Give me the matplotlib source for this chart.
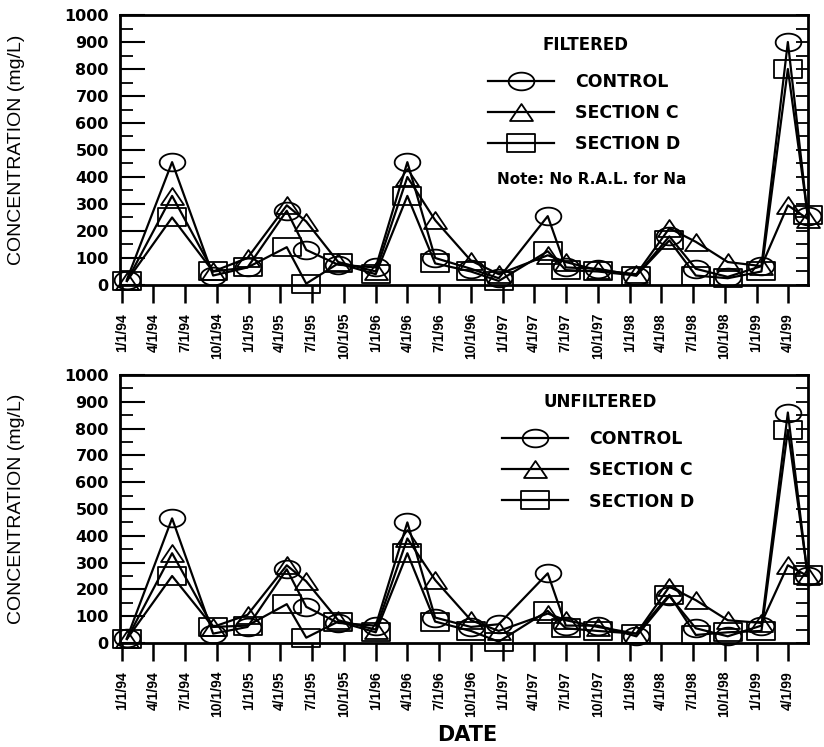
# Sodium concentration, filtered / unfiltered
import matplotlib
matplotlib.use('Agg')
import matplotlib.pyplot as plt
from matplotlib.path import Path
import numpy as np
import pandas as pd

sample_dates = ['1994-01-15', '1994-05-25', '1994-09-20', '1994-12-28',
                '1995-04-20', '1995-06-15', '1995-09-15', '1996-01-01',
                '1996-04-01', '1996-06-20', '1996-10-01', '1996-12-20',
                '1997-05-10', '1997-07-01', '1997-10-01', '1998-01-20',
                '1998-04-25', '1998-07-10', '1998-10-10', '1999-01-15',
                '1999-04-01', '1999-05-28']

control_filt = [20, 455, 35, 65, 275, 130, 75, 65, 455, 100, 60,
                25, 255, 65, 60, 35, 180, 60, 30, 70, 900, 255]
sec_c_filt = [15, 330, 50, 100, 295, 235, 85, 50, 400, 240, 90,
              40, 110, 85, 55, 40, 210, 160, 85, 70, 295, 245]
sec_d_filt = [15, 250, 50, 65, 140, 5, 80, 40, 330, 80, 50,
              15, 125, 55, 50, 35, 165, 35, 25, 50, 800, 260]

control_unf = [18, 465, 35, 60, 275, 135, 75, 65, 450, 95, 60,
               70, 260, 65, 65, 25, 175, 55, 25, 65, 860, 250]
sec_c_unf = [15, 335, 60, 105, 290, 230, 85, 50, 390, 235, 85,
             45, 110, 85, 60, 35, 210, 160, 85, 75, 290, 250]
sec_d_unf = [15, 250, 60, 65, 145, 20, 80, 40, 335, 80, 45,
             5, 120, 55, 45, 35, 180, 30, 40, 45, 795, 255]

series_names = ['CONTROL', 'SECTION C', 'SECTION D']

dates = pd.to_datetime(sample_dates)
tick_dates = pd.date_range('1994-01-01', '1999-04-01', freq='QS')
tick_labels = [f"{d.month}/{d.day}/{d.strftime('%y')}" for d in tick_dates]

# wide hollow markers like the original plotter output
t = np.linspace(0, 2 * np.pi, 60)
ellipse = Path(np.column_stack([1.45 * np.cos(t), np.sin(t)]), closed=True)
rect = Path([(-1.5, -1), (1.5, -1), (1.5, 1), (-1.5, 1), (-1.5, -1)], closed=True)
tri = Path([(-1.35, -1), (1.35, -1), (0, 1), (-1.35, -1)], closed=True)
markers = [(ellipse, 18.5), (tri, 16.5), (rect, 19.5)]

TICKFONT = 'Liberation Sans'


def draw_panel(ax, values, title, title_xy, leg_anchor, note=None):
    for vals, (mk, ms), name in zip(values, markers, series_names):
        ax.plot(dates, vals, color='black', lw=1.6, marker=mk, ms=ms,
                mfc='none', mec='black', mew=1.3, label=name, clip_on=False)

    ax.set_xlim(pd.Timestamp('1993-12-26'), pd.Timestamp('1999-05-29'))
    ax.set_ylim(0, 1000)
    ax.set_xticks(tick_dates)
    ax.set_xticklabels(tick_labels, rotation=90, fontsize=10,
                       fontweight='bold', family=TICKFONT)
    ax.set_yticks(np.arange(0, 1001, 100))
    ax.set_yticks(np.arange(50, 1000, 100), minor=True)
    ax.set_yticklabels([str(v) for v in range(0, 1001, 100)],
                       fontsize=11.5, fontweight='bold', family='DejaVu Sans')
    ax.tick_params(axis='y', which='major', direction='in', length=18, width=1.5, pad=8)
    ax.tick_params(axis='y', which='minor', direction='in', length=9, width=1.3)
    ax.tick_params(axis='x', direction='out', length=13, width=1.8, pad=7)
    for s in ax.spines.values():
        s.set_linewidth(2)

    ax2 = ax.twinx()
    ax2.set_ylim(0, 1000)
    ax2.set_yticks(np.arange(0, 1001, 50))
    ax2.tick_params(direction='in', length=9, width=1.3, labelright=False)
    for s in ax2.spines.values():
        s.set_visible(False)

    ax.set_ylabel('CONCENTRATION (mg/L)', fontsize=14, family=TICKFONT)
    ax.yaxis.set_label_coords(-0.138, 0.5)

    ax.text(title_xy[0], title_xy[1], title, transform=ax.transAxes,
            ha='center', va='center', fontsize=12, fontweight='bold',
            family='DejaVu Sans')
    ax.legend(loc='upper left', bbox_to_anchor=leg_anchor, frameon=False,
              borderpad=0, borderaxespad=0,
              handlelength=3.8, handletextpad=1.2, labelspacing=0.75,
              prop={'family': 'DejaVu Sans', 'weight': 'bold', 'size': 12.5})
    if note:
        ax.text(0.686, 0.389, note, transform=ax.transAxes, ha='center',
                va='center', fontsize=11, fontweight='bold', family='DejaVu Sans')


fig = plt.figure(figsize=(8.24, 7.47), dpi=100)
ax_top = fig.add_axes([0.1456, 0.6185, 0.835, 0.3614])
ax_bot = fig.add_axes([0.1456, 0.1392, 0.835, 0.3588])

draw_panel(ax_top, [control_filt, sec_c_filt, sec_d_filt], 'FILTERED',
           title_xy=(0.676, 0.889), leg_anchor=(0.535, 0.785),
           note='Note: No R.A.L. for Na')
draw_panel(ax_bot, [control_unf, sec_c_unf, sec_d_unf], 'UNFILTERED',
           title_xy=(0.698, 0.899), leg_anchor=(0.555, 0.793))

fig.text(0.567, 0.016, 'DATE', ha='center', va='center', fontsize=15,
         fontweight='bold', family='DejaVu Sans')

fig.savefig('out.png', dpi=100)
